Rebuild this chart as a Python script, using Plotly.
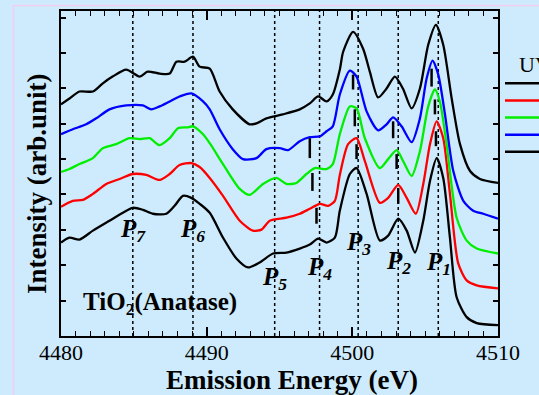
import plotly.graph_objects as go

# ---- data ----
e_k1 = [4480.0, 4480.58, 4481.27, 4482.19, 4483.33, 4484.25, 4484.93, 4485.62, 4486.31, 4487.23, 4487.80,
        4488.37, 4488.95, 4489.52, 4490.21, 4491.12, 4492.04, 4492.84, 4493.64, 4494.56, 4495.48, 4496.39,
        4497.08, 4497.65, 4498.23, 4498.80, 4499.14, 4499.83, 4500.29, 4500.98, 4501.89, 4502.46, 4503.15,
        4503.73, 4504.30, 4504.87, 4505.33, 4505.79, 4506.24, 4506.70, 4507.16, 4507.85, 4508.54, 4510.0]
i_k1 = [94, 99, 97, 106, 116, 124, 129, 127, 123, 123, 131, 141, 139, 133, 124, 99, 78, 69, 74, 83, 84, 88,
        92, 98, 94, 99, 126, 163, 169, 143, 96, 101, 118, 106, 84, 116, 156, 179, 159, 99, 39, 19, 13, 11]

e_red = [4480.0, 4480.81, 4481.50, 4482.19, 4483.11, 4484.02, 4484.93, 4485.86, 4486.77, 4487.46, 4488.14,
         4488.95, 4489.52, 4490.21, 4491.12, 4492.27, 4493.18, 4493.76, 4494.33, 4495.48, 4496.39, 4497.08,
         4497.77, 4498.34, 4498.80, 4499.14, 4499.71, 4500.29, 4500.86, 4501.89, 4502.46, 4503.15, 4503.73,
         4504.36, 4504.87, 4505.33, 4505.79, 4506.24, 4506.70, 4507.27, 4507.85, 4508.54, 4510.0]
i_red = [130, 136, 137, 143, 153, 158, 163, 162, 157, 163, 172, 174, 170, 159, 141, 116, 106, 107, 116, 119,
         123, 128, 133, 131, 136, 162, 193, 199, 176, 134, 139, 152, 139, 123, 153, 193, 216, 199, 143, 73,
         56, 51, 48]

e_green = [4480.0, 4480.58, 4481.27, 4482.19, 4482.87, 4483.79, 4484.71, 4485.40, 4486.08, 4486.77, 4487.46,
           4488.03, 4488.71, 4489.06, 4489.75, 4490.21, 4491.12, 4492.27, 4492.95, 4493.87, 4494.79, 4495.48,
           4496.16, 4496.85, 4497.42, 4498.23, 4498.66, 4499.14, 4499.83, 4500.29, 4500.86, 4501.89, 4502.46,
           4503.04, 4503.49, 4504.07, 4504.64, 4505.21, 4505.67, 4506.01, 4506.47, 4507.16, 4507.85, 4508.54,
           4510.0]
i_green = [165, 168, 173, 179, 189, 193, 199, 198, 199, 192, 199, 209, 210, 211, 203, 194, 173, 148, 142, 153,
           159, 153, 154, 163, 169, 168, 173, 203, 231, 229, 199, 169, 178, 187, 176, 161, 186, 231, 248, 236,
           193, 119, 96, 88, 83]

e_blue = [4480.0, 4480.81, 4481.73, 4482.42, 4483.33, 4484.48, 4485.62, 4486.20, 4486.77, 4487.46, 4488.14,
          4488.95, 4489.75, 4490.21, 4490.89, 4491.79, 4492.49, 4493.42, 4494.10, 4495.02, 4495.59, 4496.39,
          4497.08, 4497.77, 4498.23, 4498.66, 4499.14, 4499.83, 4500.29, 4500.98, 4501.77, 4502.35, 4502.80,
          4503.38, 4504.07, 4504.64, 4505.10, 4505.51, 4505.90, 4506.36, 4506.93, 4507.62, 4508.30, 4508.99,
          4510.0]
i_blue = [203, 208, 213, 219, 228, 232, 232, 228, 231, 236, 241, 244, 236, 228, 208, 188, 178, 179, 188, 189,
          187, 196, 200, 201, 206, 211, 243, 267, 261, 226, 207, 213, 220, 211, 195, 219, 259, 277, 263, 223,
          166, 136, 126, 123, 118]

e_k2 = [4480.0, 4480.58, 4481.27, 4482.19, 4482.85, 4483.54, 4484.48, 4485.40, 4485.95, 4486.77, 4487.46,
        4487.92, 4488.49, 4489.06, 4489.52, 4490.21, 4490.89, 4491.79, 4492.95, 4493.42, 4494.10, 4495.22,
        4496.39, 4497.08, 4497.65, 4498.23, 4498.66, 4499.14, 4499.37, 4500.05, 4500.74, 4501.20, 4501.77,
        4502.35, 4502.92, 4503.47, 4504.07, 4504.64, 4505.21, 4505.74, 4506.24, 4506.82, 4507.39, 4508.08,
        4508.76, 4510.0]
i_k2 = [233, 239, 246, 246, 254, 261, 268, 261, 266, 264, 264, 276, 276, 281, 271, 269, 246, 228, 213, 214,
        219, 223, 228, 234, 241, 236, 243, 268, 286, 306, 289, 266, 240, 249, 261, 249, 229, 249, 293, 313,
        293, 239, 193, 166, 158, 154]

peak_names = ["1", "2", "3", "4", "5", "6", "7"]
peak_energy = [4505.9, 4503.15, 4500.4, 4497.75, 4494.67, 4489.06, 4484.93]
peak_label_y = [73, 74, 93, 68, 58, 106, 106]

mark_e = [4500.05, 4500.17, 4500.29, 4502.80, 4503.04, 4503.15, 4505.44, 4505.67, 4505.74, 4497.08, 4497.26, 4497.54]
mark_lo = [248, 211, 178, 199, 168, 133, 251, 223, 191, 179, 146, 113]
mark_hi = [263, 228, 193, 216, 183, 149, 269, 238, 206, 199, 164, 129]

x_ticks = [4480, 4490, 4500, 4510]
x_ticklabels = ["4480", "4490", "4500", "4510"]

legend_title = "UV"
legend_colors = ["#000000", "#ff0000", "#00ee00", "#0000ff", "#000000"]

# ---- figure ----
BG = "#cdebfc"
FONT = "Liberation Serif"
W, H = 539, 395
ML, MR, MT, MB = 61, 41, 9, 59
PW, PH = W - ML - MR, H - MT - MB

def px2paper_x(px):
    return (px - ML) / PW

def py2paper_y(py):
    return (H - MB - py) / PH

fig = go.Figure()

series = [(e_k1, i_k1, "#000000"), (e_red, i_red, "#ff0000"), (e_green, i_green, "#00ee00"),
          (e_blue, i_blue, "#0000ff"), (e_k2, i_k2, "#000000")]
for ex, iy, col in series:
    fig.add_trace(go.Scatter(x=ex, y=iy, mode="lines",
                             line=dict(color=col, width=2.3, shape="spline", smoothing=0.7),
                             showlegend=False, hoverinfo="skip"))

# vertical peak markers
mx, my = [], []
for e, lo, hi in zip(mark_e, mark_lo, mark_hi):
    mx += [e, e, None]
    my += [lo, hi, None]
fig.add_trace(go.Scatter(x=mx, y=my, mode="lines", line=dict(color="black", width=2.5),
                         showlegend=False, hoverinfo="skip"))

# dotted peak lines
for e in peak_energy:
    fig.add_shape(type="line", xref="x", yref="paper", x0=e, x1=e, y0=0, y1=1,
                  line=dict(color="black", width=1.5, dash="dot"), layer="below")

# peak labels
for name, e, yl in zip(peak_names, peak_energy, peak_label_y):
    fig.add_annotation(x=e, y=yl, xref="x", yref="y", text=f"P<sub>{name}</sub>", showarrow=False,
                       xanchor="center", yanchor="middle",
                       font=dict(family=FONT, size=25, color="black", weight="bold", style="italic"))

fig.add_annotation(x=4486.8, y=33, xref="x", yref="y", text="TiO<sub>2</sub>(Anatase)", showarrow=False,
                   xanchor="center", yanchor="middle",
                   font=dict(family=FONT, size=25, color="black", weight="bold"))

# axis titles
fig.add_annotation(x=px2paper_x(292), y=py2paper_y(380), xref="paper", yref="paper",
                   text="Emission Energy (eV)", showarrow=False, xanchor="center", yanchor="middle",
                   font=dict(family=FONT, size=27, color="black", weight="bold"))
fig.add_annotation(x=px2paper_x(37), y=py2paper_y(183), xref="paper", yref="paper",
                   text="Intensity (arb.unit)", showarrow=False, xanchor="center", yanchor="middle",
                   textangle=-90, font=dict(family=FONT, size=27, color="black", weight="bold"))

# partial legend on the right (cut by the picture edge, as in the reference)
fig.add_annotation(x=px2paper_x(517), y=py2paper_y(63), xref="paper", yref="paper", text=legend_title,
                   showarrow=False, xanchor="left", yanchor="middle",
                   font=dict(family=FONT, size=22, color="black"))
for k, col in enumerate(legend_colors):
    ly = py2paper_y(81.7 + k * 17.25)
    fig.add_shape(type="line", xref="paper", yref="paper", x0=px2paper_x(505), x1=px2paper_x(560),
                  y0=ly, y1=ly, line=dict(color=col, width=2.5))

# pink outer frame
fig.add_shape(type="rect", xref="paper", yref="paper", x0=px2paper_x(13.5), y0=py2paper_y(3.5),
              x1=px2paper_x(700), y1=py2paper_y(600), line=dict(color="#f2cdf0", width=1.5),
              fillcolor="rgba(0,0,0,0)", layer="below")

fig.update_layout(
    width=W, height=H, margin=dict(l=ML, r=MR, t=MT, b=MB),
    paper_bgcolor=BG, plot_bgcolor=BG, showlegend=False,
    font=dict(family=FONT, color="black"),
    xaxis=dict(range=[4480, 4510], tickvals=x_ticks, ticktext=x_ticklabels, ticks="inside", ticklen=9,
               tickwidth=1.5, tickcolor="black", showline=True, linewidth=2, linecolor="black",
               mirror="allticks", showgrid=False, zeroline=False, ticklabelstandoff=-4,
               tickfont=dict(family=FONT, size=22, color="black"),
               minor=dict(dtick=1, ticks="inside", ticklen=5, tickwidth=1.2, tickcolor="black", showgrid=False)),
    yaxis=dict(range=[0, PH], tick0=0, dtick=35.6, ticks="inside", ticklen=5, tickwidth=1.5, tickcolor="black",
               showticklabels=False, showline=True, linewidth=2, linecolor="black", mirror="allticks",
               showgrid=False, zeroline=False),
)

fig.write_html("out.html")
